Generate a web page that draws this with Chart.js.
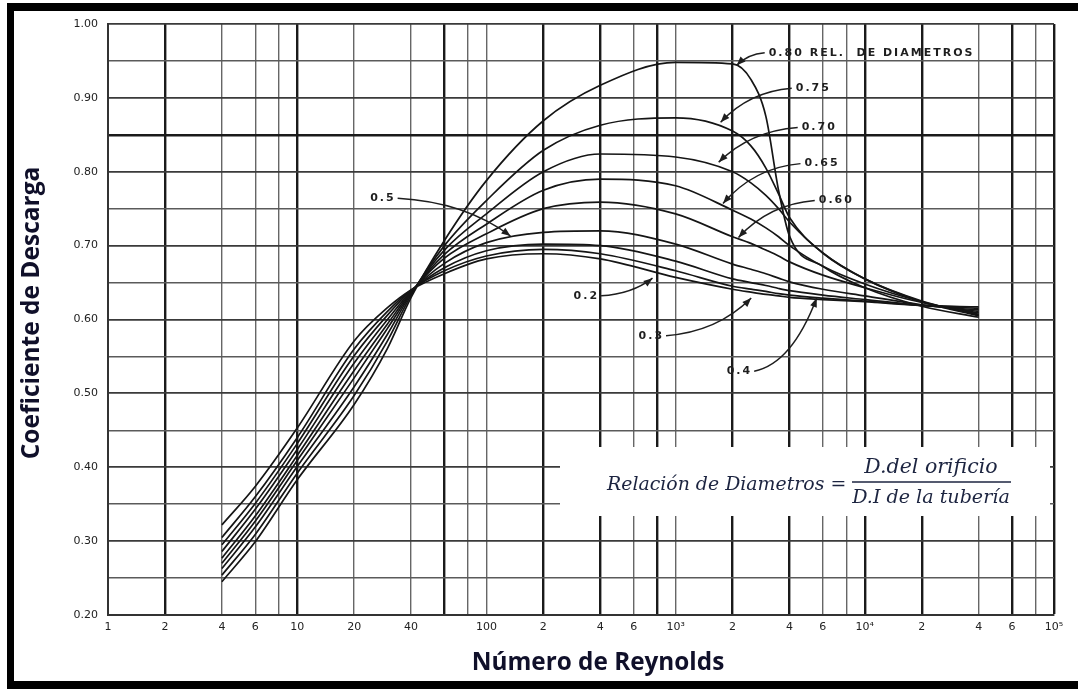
<!DOCTYPE html>
<html>
<head>
<meta charset="utf-8">
<script src="https://cdn.jsdelivr.net/npm/chart.js@4/dist/chart.umd.min.js"></script>
<style>
  html, body { margin: 0; padding: 0; background: #fff; }
  canvas { display: block; }
</style>
</head>
<body>
<canvas id="orificeChart" width="1078" height="689"></canvas>
<script>
const reynolds = [4, 6, 10, 20, 30, 40, 60, 100, 200, 400, 1000, 2000, 2500, 3000, 3500, 4000, 6000, 10000, 20000, 40000];

// discharge coefficient for each diameter ratio
const cd020 = [0.322, 0.374, 0.453, 0.571, 0.616, 0.640, 0.662, 0.682, 0.689, 0.682, 0.657, 0.641, 0.637, 0.634, 0.632, 0.630, 0.627, 0.624, 0.619, 0.617];
const cd030 = [0.305, 0.360, 0.440, 0.560, 0.611, 0.640, 0.666, 0.686, 0.695, 0.689, 0.666, 0.645, 0.641, 0.638, 0.635, 0.633, 0.629, 0.625, 0.619, 0.615];
const cd040 = [0.295, 0.351, 0.432, 0.551, 0.606, 0.639, 0.670, 0.693, 0.702, 0.700, 0.679, 0.655, 0.650, 0.646, 0.642, 0.639, 0.633, 0.627, 0.619, 0.613];
const cd050 = [0.286, 0.343, 0.424, 0.541, 0.600, 0.638, 0.676, 0.704, 0.718, 0.720, 0.702, 0.675, 0.668, 0.662, 0.656, 0.651, 0.641, 0.632, 0.620, 0.611];
const cd060 = [0.277, 0.334, 0.416, 0.531, 0.594, 0.637, 0.683, 0.716, 0.750, 0.759, 0.743, 0.712, 0.703, 0.694, 0.686, 0.678, 0.660, 0.643, 0.623, 0.609];
const cd065 = [0.270, 0.327, 0.409, 0.521, 0.588, 0.636, 0.688, 0.729, 0.775, 0.790, 0.781, 0.748, 0.736, 0.724, 0.712, 0.700, 0.672, 0.648, 0.624, 0.607];
const cd070 = [0.263, 0.319, 0.401, 0.509, 0.580, 0.635, 0.694, 0.743, 0.800, 0.824, 0.820, 0.800, 0.785, 0.768, 0.750, 0.732, 0.690, 0.655, 0.625, 0.606];
const cd075 = [0.254, 0.309, 0.392, 0.497, 0.571, 0.633, 0.700, 0.761, 0.829, 0.863, 0.873, 0.855, 0.835, 0.805, 0.770, 0.738, 0.690, 0.655, 0.624, 0.605];
const cd080 = [0.245, 0.299, 0.383, 0.485, 0.561, 0.630, 0.707, 0.788, 0.869, 0.917, 0.948, 0.946, 0.925, 0.875, 0.775, 0.713, 0.672, 0.643, 0.618, 0.603];

const ratioLabels = ['0.2', '0.3', '0.4', '0.5', '0.60', '0.65', '0.70', '0.75', '0.80'];
const ratioSeries = [cd020, cd030, cd040, cd050, cd060, cd065, cd070, cd075, cd080];

// log paper lines and the labels printed under them
const xGridValues = [1, 2, 4, 6, 8, 10, 20, 40, 60, 80, 100, 200, 400, 600, 800, 1000, 2000, 4000, 6000, 8000, 10000, 20000, 40000, 60000, 80000, 100000];
const xTickLabels = ['1', '2', '4', '6', '', '10', '20', '40', '', '', '100', '2', '4', '6', '', '10³', '2', '4', '6', '', '10⁴', '2', '4', '6', '', '10⁵'];
const xHeavyLines = [2, 10, 60, 200, 400, 800, 2000, 4000, 10000, 20000, 60000, 100000];

// curve labels with arrows: [Re, Cd] of text left edge and of arrow tip
const curveNotes = [
    { text: '0.80 REL.  DE DIAMETROS', at: [3105, 0.961], tip: [2104, 0.944], from: 'left' },
    { text: '0.75', at: [4315, 0.913], tip: [1730, 0.867], from: 'left' },
    { text: '0.70', at: [4640, 0.860], tip: [1690, 0.813], from: 'left' },
    { text: '0.65', at: [4800, 0.811], tip: [1780, 0.757], from: 'left' },
    { text: '0.60', at: [5710, 0.761], tip: [2150, 0.711], from: 'left' },
    { text: '0.5', at: [24.3, 0.764], tip: [134, 0.713], from: 'right' },
    { text: '0.2', at: [289, 0.632], tip: [755, 0.656], from: 'right' },
    { text: '0.3', at: [637, 0.578], tip: [2510, 0.629], from: 'right' },
    { text: '0.4', at: [1862, 0.530], tip: [5570, 0.629], from: 'right' }
];

function fitFont(ctx, text, style, family, targetWidth) {
    ctx.font = style + ' 20px ' + family;
    const size = 20 * targetWidth / ctx.measureText(text).width;
    ctx.font = style + ' ' + size.toFixed(1) + 'px ' + family;
}

const paperPlugin = {
    id: 'paper',
    beforeDraw(chart) {
        const ctx = chart.ctx;
        ctx.save();
        ctx.fillStyle = '#fff';
        ctx.fillRect(0, 0, chart.width, chart.height);
        ctx.restore();
    },
    afterDatasetsDraw(chart) {
        const ctx = chart.ctx;
        const xs = chart.scales.x, ys = chart.scales.y;
        ctx.save();

        // curve labels and arrows
        ctx.fillStyle = '#1e1e1e';
        ctx.strokeStyle = '#1e1e1e';
        ctx.lineWidth = 1.5;
        ctx.textBaseline = 'middle';
        ctx.textAlign = 'left';
        curveNotes.forEach(n => {
            ctx.font = 'bold 11px "DejaVu Sans"';
            ctx.letterSpacing = '2px';
            const tx = xs.getPixelForValue(n.at[0]);
            const ty = ys.getPixelForValue(n.at[1]);
            ctx.fillText(n.text, tx, ty);
            const w = ctx.measureText(n.text).width;
            ctx.letterSpacing = '0px';
            const sx = n.from === 'left' ? tx - 4 : tx + w + 2;
            const sy = ty;
            const px = xs.getPixelForValue(n.tip[0]);
            const py = ys.getPixelForValue(n.tip[1]);
            const cx = sx + (px - sx) * 0.6;
            const cy = sy + (py - sy) * 0.1;
            ctx.beginPath();
            ctx.moveTo(sx, sy);
            ctx.quadraticCurveTo(cx, cy, px, py);
            ctx.stroke();
            const ang = Math.atan2(py - cy, px - cx);
            ctx.beginPath();
            ctx.moveTo(px, py);
            ctx.lineTo(px - 9 * Math.cos(ang) + 3.5 * Math.sin(ang), py - 9 * Math.sin(ang) - 3.5 * Math.cos(ang));
            ctx.lineTo(px - 9 * Math.cos(ang) - 3.5 * Math.sin(ang), py - 9 * Math.sin(ang) + 3.5 * Math.cos(ang));
            ctx.closePath();
            ctx.fill();
        });

        // white box with the diameter ratio definition
        ctx.fillStyle = '#fff';
        ctx.fillRect(560, 447, 490, 69);
        ctx.fillStyle = '#1c2440';
        ctx.strokeStyle = '#1c2440';
        ctx.textAlign = 'left';
        fitFont(ctx, 'Relación de Diametros =', 'italic', '"DejaVu Serif"', 239);
        ctx.fillText('Relación de Diametros =', 607, 485);
        ctx.lineWidth = 1.6;
        ctx.beginPath();
        ctx.moveTo(852, 482);
        ctx.lineTo(1011, 482);
        ctx.stroke();
        ctx.textAlign = 'center';
        fitFont(ctx, 'D.del orificio', 'italic', '"DejaVu Serif"', 133);
        ctx.fillText('D.del orificio', 931, 468);
        fitFont(ctx, 'D.I de la tubería', 'italic', '"DejaVu Serif"', 158);
        ctx.fillText('D.I de la tubería', 931, 498);

        // axis titles
        ctx.fillStyle = '#10102a';
        fitFont(ctx, 'Número de Reynolds', 'bold', '"Open Sans"', 253);
        ctx.fillText('Número de Reynolds', 598, 663);
        ctx.translate(32, 313);
        ctx.rotate(-Math.PI / 2);
        fitFont(ctx, 'Coeficiente de Descarga', 'bold', '"Open Sans"', 293);
        ctx.fillText('Coeficiente de Descarga', 0, 0);
        ctx.restore();

        // black frame of the picture
        ctx.save();
        ctx.fillStyle = '#000';
        ctx.fillRect(7, 3, 1071, 8);
        ctx.fillRect(7, 3, 7, 685);
        ctx.fillRect(7, 681, 1071, 8);
        ctx.restore();
    }
};

new Chart(document.getElementById('orificeChart'), {
    type: 'line',
    data: {
        datasets: ratioSeries.map((series, i) => ({
            label: ratioLabels[i],
            data: reynolds.map((re, j) => ({ x: re, y: series[j] })),
            borderColor: '#151515',
            borderWidth: 1.7,
            pointRadius: 0,
            fill: false,
            cubicInterpolationMode: 'monotone'
        }))
    },
    options: {
        responsive: false,
        animation: false,
        devicePixelRatio: 1,
        layout: { padding: { top: 24, right: 24, left: 0, bottom: 0 } },
        plugins: {
            legend: { display: false },
            tooltip: { enabled: false }
        },
        scales: {
            x: {
                type: 'logarithmic',
                min: 1,
                max: 100000,
                afterBuildTicks: axis => {
                    axis.ticks = xGridValues.map(v => ({ value: v }));
                },
                afterFit: axis => { axis.height = 74; },
                grid: {
                    drawTicks: false,
                    color: ctx => xHeavyLines.includes(ctx.tick && ctx.tick.value) ? '#1a1a1a' : '#666',
                    lineWidth: ctx => xHeavyLines.includes(ctx.tick && ctx.tick.value) ? 2.4 : 1.4
                },
                border: { color: '#333', width: 2 },
                ticks: {
                    autoSkip: false,
                    maxRotation: 0,
                    minRotation: 0,
                    padding: 6,
                    color: '#222',
                    font: { family: 'DejaVu Sans', size: 11 },
                    callback: value => {
                        const k = xGridValues.indexOf(value);
                        return k >= 0 ? xTickLabels[k] : '';
                    }
                }
            },
            y: {
                min: 0.2,
                max: 1.0,
                afterFit: axis => { axis.width = 108; },
                grid: {
                    drawTicks: false,
                    color: ctx => {
                        const v = Math.round(ctx.tick.value * 100);
                        return v === 85 ? '#1a1a1a' : (v % 10 === 0 ? '#3a3a3a' : '#5a5a5a');
                    },
                    lineWidth: ctx => {
                        const v = Math.round(ctx.tick.value * 100);
                        return v === 85 ? 2.6 : (v % 10 === 0 ? 1.8 : 1.5);
                    }
                },
                border: { color: '#333', width: 2 },
                ticks: {
                    stepSize: 0.05,
                    padding: 10,
                    color: '#222',
                    font: { family: 'DejaVu Sans', size: 11 },
                    callback: value => {
                        const v = Math.round(value * 100);
                        return v % 10 === 0 ? (v / 100).toFixed(2) : '';
                    }
                }
            }
        }
    },
    plugins: [paperPlugin]
});
</script>
</body>
</html>
